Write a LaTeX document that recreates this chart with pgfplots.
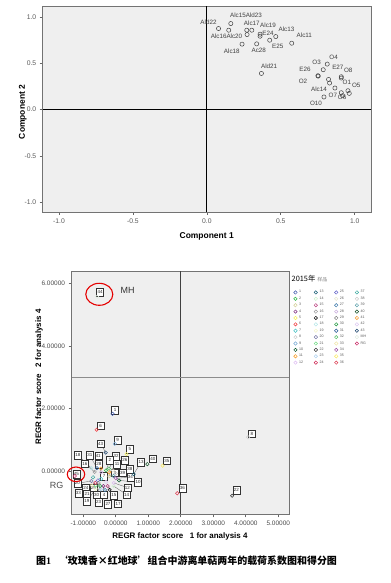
\documentclass[border=0pt]{standalone}
\usepackage{pgfplots}
\pgfplotsset{compat=1.18}
\usepackage{fontspec}
\setmainfont{Liberation Sans}
\newfontfamily\cjk{Noto Sans CJK SC}
\definecolor{bgc}{RGB}{239,239,239}
\definecolor{c1}{RGB}{62,88,172}
\definecolor{c2}{RGB}{46,184,72}
\definecolor{c3}{RGB}{211,206,151}
\definecolor{c4}{RGB}{124,40,125}
\definecolor{c5}{RGB}{245,240,90}
\definecolor{c6}{RGB}{239,51,56}
\definecolor{c7}{RGB}{72,194,197}
\definecolor{c8}{RGB}{204,204,204}
\definecolor{c9}{RGB}{122,170,213}
\definecolor{c10}{RGB}{10,86,44}
\definecolor{c11}{RGB}{248,152,29}
\definecolor{c12}{RGB}{221,186,241}
\definecolor{c13}{RGB}{26,95,118}
\definecolor{c14}{RGB}{204,240,204}
\definecolor{c15}{RGB}{187,63,127}
\definecolor{c16}{RGB}{153,153,153}
\definecolor{c17}{RGB}{0,0,0}
\definecolor{c18}{RGB}{182,231,232}
\definecolor{c19}{RGB}{245,245,200}
\definecolor{c20}{RGB}{121,122,167}
\definecolor{c21}{RGB}{112,220,132}
\definecolor{c22}{RGB}{51,51,51}
\definecolor{c23}{RGB}{172,208,238}
\definecolor{c24}{RGB}{203,27,74}
\definecolor{c25}{RGB}{96,96,200}
\definecolor{c26}{RGB}{230,230,210}
\definecolor{c27}{RGB}{60,120,170}
\definecolor{c28}{RGB}{200,170,220}
\definecolor{c29}{RGB}{130,130,130}
\definecolor{c30}{RGB}{30,150,60}
\definecolor{c31}{RGB}{40,90,150}
\definecolor{c32}{RGB}{80,190,100}
\definecolor{c33}{RGB}{240,230,170}
\definecolor{c34}{RGB}{150,70,160}
\definecolor{c35}{RGB}{250,235,100}
\definecolor{c36}{RGB}{220,60,80}
\definecolor{c37}{RGB}{60,170,160}
\definecolor{c38}{RGB}{200,200,200}
\definecolor{c39}{RGB}{90,160,170}
\definecolor{c40}{RGB}{20,80,40}
\definecolor{c41}{RGB}{245,150,40}
\definecolor{c42}{RGB}{220,200,240}
\definecolor{c43}{RGB}{30,70,110}
\definecolor{c44}{RGB}{225,235,225}
\definecolor{c45}{RGB}{200,40,100}
\tikzset{lbl/.style={draw=black!80, fill=white, inner sep=0.5pt, minimum width=7bp, minimum height=7.5bp, line width=0.45pt, font=\fontsize{4.5}{5}\selectfont, text=black!85},
  ptl/.style={inner sep=0pt, font=\fontsize{6.3}{7}\selectfont, text=black!75}}
\newcommand\smp[4]{\addplot[only marks, mark=o, mark size=1.7bp, mark options={draw=#2, line width=0.5pt}] coordinates {(#3,#4)}; \addlegendentry{#1}}
\newcommand\emp{\addlegendimage{empty legend}\addlegendentry{}}
\newcommand\lab[5]{\addplot[forget plot, black!65, line width=0.3pt] coordinates {(#2,#3) (#4,#5)};}
\newcommand\lbx[3]{\node[lbl] at (axis cs:#2,#3) {#1};}
\newcommand\pl[3]{\node[ptl] at (axis cs:#2,#3) {#1};}
\begin{document}
\begin{tikzpicture}
\path[use as bounding box] (0bp,0bp) rectangle (391bp,583bp);
% ---------- top: loading plot ----------
\begin{axis}[
  at={(42.7bp,371bp)}, anchor=south west, scale only axis,
  width=328.3bp, height=206bp,
  xmin=-1.11, xmax=1.11, ymin=-1.108, ymax=1.122,
  axis background/.style={fill=bgc},
  axis line style={draw=black!55, line width=0.8pt},
  tick style={draw=black!60, line width=0.6pt}, tick align=outside,
  major tick length=3bp, tick pos=left,
  xtick={-1,-0.5,0,0.5,1}, xticklabels={-1.0,-0.5,0.0,0.5,1.0},
  ytick={-1,-0.5,0,0.5,1}, yticklabels={-1.0,-0.5,0.0,0.5,1.0},
  ticklabel style={font=\fontsize{6.8}{7.5}\selectfont, text=black!65},
  /pgf/number format/assume math mode=true,
  clip=false,
]
\addplot[forget plot, black, line width=0.8pt] coordinates {(0,-1.108) (0,1.122)};
\addplot[forget plot, black, line width=0.8pt] coordinates {(-1.11,0) (1.11,0)};
\addplot[only marks, mark=o, mark size=2.1bp, mark options={draw=black!75, line width=0.5pt}] coordinates {
(0.079,0.878) (0.162,0.932) (0.148,0.860) (0.270,0.860) (0.304,0.860)
(0.272,0.813) (0.360,0.817) (0.360,0.795) (0.466,0.791) (0.425,0.752)
(0.574,0.719) (0.238,0.709) (0.337,0.712) (0.369,0.392)
(0.814,0.493) (0.787,0.432) (0.751,0.367) (0.753,0.363)
(0.823,0.327) (0.830,0.288) (0.909,0.356) (0.909,0.342)
(0.866,0.234) (0.954,0.205) (0.963,0.176) (0.909,0.183)
(0.792,0.137) (0.918,0.151)
};
\pl{Alc15Ald23}{0.265}{1.022}
\pl{Ald22}{0.011}{0.942}
\pl{Alc17}{0.304}{0.932}
\pl{Alc19}{0.414}{0.917}
\pl{Alc13}{0.538}{0.871}
\pl{Alc16Alc20}{0.133}{0.791}
\pl{E24}{0.414}{0.824}
\pl{Alc11}{0.659}{0.806}
\pl{E25}{0.479}{0.687}
\pl{Alc18}{0.169}{0.633}
\pl{Ac28}{0.351}{0.644}
\pl{Ald21}{0.421}{0.471}
\pl{O4}{0.857}{0.568}
\pl{O3}{0.742}{0.507}
\pl{E27}{0.886}{0.460}
\pl{E26}{0.664}{0.439}
\pl{O8}{0.956}{0.428}
\pl{O2}{0.650}{0.302}
\pl{O1}{0.947}{0.299}
\pl{O5}{1.010}{0.259}
\pl{Alc14}{0.758}{0.216}
\pl{O7}{0.852}{0.158}
\pl{O6}{0.915}{0.129}
\pl{O10}{0.738}{0.072}
\end{axis}
\node[rotate=90, font=\bfseries\fontsize{8.5}{9}\selectfont] at (22.7bp,471bp) {Component 2};
\node[font=\bfseries\fontsize{8.5}{9}\selectfont] at (206.7bp,347bp) {Component 1};
% ---------- bottom: score plot ----------
\begin{axis}[
  at={(71.5bp,68.7bp)}, anchor=south west, scale only axis,
  width=217.5bp, height=242.8bp,
  xmin=-1.363, xmax=5.33, ymin=-1.383, ymax=6.377,
  axis background/.style={fill=bgc},
  axis line style={draw=black!55, line width=0.8pt},
  tick style={draw=black!60, line width=0.6pt}, tick align=outside,
  major tick length=3bp, tick pos=left,
  xtick={-1,0,1,2,3,4,5},
  xticklabels={-1.00000,0.00000,1.00000,2.00000,3.00000,4.00000,5.00000},
  ytick={0,2,4,6}, yticklabels={0.00000,2.00000,4.00000,6.00000},
  ticklabel style={font=\fontsize{6.5}{7}\selectfont, text=black!70},
  /pgf/number format/assume math mode=true,
  clip=false,
  legend style={at={(axis description cs:1.021,0.931)}, anchor=north west, draw=none, fill=none,
    inner sep=0pt, font=\fontsize{3.6}{4}\selectfont, text=black!65, row sep=-1.6bp,
    /tikz/every even column/.append style={column sep=9bp}},
  legend columns=4, legend cell align=left,
  legend image code/.code={\draw[mark repeat=2,mark phase=2,#1] plot coordinates {(0bp,0bp) (2bp,0bp) (4bp,0bp)};},
]
\addplot[forget plot, black!75, line width=0.7pt] coordinates {(2,-1.383) (2,6.377)};
\addplot[forget plot, black!45, line width=1.3pt] coordinates {(-1.363,3) (5.33,3)};
% leader lines
\lab{2}{-0.18}{0.35}{-0.30}{0.02}
\lab{3}{-0.03}{-0.05}{-0.20}{-0.16}
\lab{4}{-0.36}{-0.75}{-0.38}{-0.48}
\lab{10}{0.69}{-0.36}{0.10}{-0.30}
\lab{11}{0.04}{0.22}{-0.20}{-0.04}
\lab{12}{0.36}{-0.53}{-0.06}{-0.38}
\lab{13}{0.78}{0.28}{0.55}{-0.10}
\lab{14}{0.33}{-0.75}{-0.07}{-0.48}
\lab{15}{-0.06}{-0.77}{-0.25}{-0.48}
\lab{16}{-0.95}{0.24}{-0.65}{-0.03}
\lab{17}{0.07}{-1.04}{-0.19}{-0.60}
\lab{18}{-1.17}{0.51}{-0.75}{0.09}
\lab{19}{-0.89}{-0.97}{-0.62}{-0.57}
\lab{20}{-1.18}{-0.39}{-0.75}{-0.32}
\lab{21}{-0.88}{-0.73}{-0.62}{-0.47}
\lab{23}{-0.53}{-1.00}{-0.46}{-0.59}
\lab{24}{-0.92}{-0.53}{-0.63}{-0.38}
\lab{26}{0.28}{0.35}{-0.09}{0.02}
\lab{27}{-0.24}{-1.06}{-0.33}{-0.61}
\lab{28}{-0.52}{0.21}{-0.45}{-0.04}
\lab{29}{-0.69}{-0.53}{-0.53}{-0.38}
\lab{30}{-0.59}{-0.75}{-0.48}{-0.48}
\lab{31}{-0.80}{0.51}{-0.58}{0.09}
\lab{32}{0.01}{0.48}{-0.21}{0.08}
\lab{33}{-1.15}{-0.71}{-0.74}{-0.46}
\lab{34}{0.45}{-0.20}{0.00}{-0.23}
\lab{38}{0.43}{0.06}{0.00}{-0.08}
\lab{39}{0.21}{-0.05}{-0.07}{-0.16}
\lab{41}{-0.54}{0.49}{-0.46}{0.08}
\lab{43}{-0.47}{0.88}{-0.31}{0.59}
% samples, in legend order (row by row)
\smp{1}{c1}{-0.10}{1.83} \smp{13}{c13}{0.55}{-0.10} \smp{25}{c25}{-0.55}{-0.30} \smp{37}{c37}{-0.70}{-0.20}
\smp{2}{c2}{-0.30}{0.02} \smp{14}{c14}{-0.07}{-0.48} \smp{26}{c26}{-0.09}{0.02} \smp{38}{c38}{0.00}{-0.08}
\smp{3}{c3}{-0.20}{-0.16} \smp{15}{c15}{-0.25}{-0.48} \smp{27}{c27}{-0.33}{-0.61} \smp{39}{c39}{-0.07}{-0.16}
\smp{4}{c4}{-0.38}{-0.48} \smp{16}{c16}{-0.65}{-0.03} \smp{28}{c28}{-0.45}{-0.04} \smp{40}{c40}{0.97}{0.22}
\smp{5}{c5}{0.33}{0.54} \smp{17}{c17}{-0.19}{-0.60} \smp{29}{c29}{-0.53}{-0.38} \smp{41}{c41}{-0.46}{0.08}
\smp{6}{c6}{-0.59}{1.32} \smp{18}{c18}{-0.75}{0.09} \smp{30}{c30}{-0.48}{-0.48} \smp{42}{c42}{-0.30}{-0.35}
\smp{7}{c7}{-0.45}{-0.25} \smp{19}{c19}{-0.62}{-0.57} \smp{31}{c31}{-0.58}{0.09} \smp{43}{c43}{-0.31}{0.59}
\smp{8}{c8}{4.07}{1.08} \smp{20}{c20}{-0.75}{-0.32} \smp{32}{c32}{-0.21}{0.08} \smp{MH}{c44}{-0.575}{5.57}
\smp{9}{c9}{-0.03}{0.87} \smp{21}{c21}{-0.62}{-0.47} \smp{33}{c33}{-0.74}{-0.46} \smp{RG}{c45}{-1.26}{-0.16}
\smp{10}{c10}{0.10}{-0.30} \smp{22}{c22}{3.58}{-0.79} \smp{34}{c34}{0.00}{-0.23} \emp
\smp{11}{c11}{-0.20}{-0.04} \smp{23}{c23}{-0.46}{-0.59} \smp{35}{c35}{1.44}{0.17} \emp
\smp{12}{c12}{-0.06}{-0.38} \smp{24}{c24}{-0.63}{-0.38} \smp{36}{c36}{1.89}{-0.71} \emp
% label boxes
\lbx{1}{-0.02}{1.95}
\lbx{6}{-0.47}{1.45}
\lbx{43}{-0.47}{0.88}
\lbx{9}{0.06}{0.99}
\lbx{5}{0.43}{0.69}
\lbx{40}{1.14}{0.39}
\lbx{35}{1.57}{0.33}
\lbx{36}{2.05}{-0.55}
\lbx{8}{4.19}{1.19}
\lbx{22}{3.71}{-0.61}
\lbx{44}{-0.48}{5.71}
\lbx{45}{-1.21}{-0.11}
\lbx{18}{-1.17}{0.51}
\lbx{31}{-0.80}{0.51}
\lbx{41}{-0.54}{0.49}
\lbx{16}{-0.95}{0.24}
\lbx{28}{-0.52}{0.21}
\lbx{32}{0.01}{0.48}
\lbx{26}{0.28}{0.35}
\lbx{11}{0.04}{0.22}
\lbx{2}{-0.18}{0.35}
\lbx{13}{0.78}{0.28}
\lbx{38}{0.43}{0.06}
\lbx{7}{-0.36}{-0.16}
\lbx{3}{-0.03}{-0.05}
\lbx{39}{0.21}{-0.05}
\lbx{34}{0.45}{-0.20}
\lbx{10}{0.69}{-0.36}
\lbx{20}{-1.18}{-0.39}
\lbx{24}{-0.92}{-0.53}
\lbx{29}{-0.69}{-0.53}
\lbx{12}{0.36}{-0.53}
\lbx{30}{-0.59}{-0.75}
\lbx{4}{-0.36}{-0.75}
\lbx{15}{-0.06}{-0.77}
\lbx{33}{-1.15}{-0.71}
\lbx{21}{-0.88}{-0.73}
\lbx{19}{-0.89}{-0.97}
\lbx{23}{-0.53}{-1.00}
\lbx{27}{-0.24}{-1.06}
\lbx{17}{0.07}{-1.04}
\lbx{14}{0.33}{-0.75}
\end{axis}
% annotations
\draw[red!90!black, line width=1.1pt] (99.3bp,288.7bp) ellipse [x radius=13.5bp, y radius=11bp];
\draw[red!90!black, line width=1.1pt] (76bp,108.7bp) ellipse [x radius=8.7bp, y radius=7.3bp];
\node[font=\fontsize{9}{10}\selectfont, text=black!80] at (127.7bp,293bp) {MH};
\node[font=\fontsize{9}{10}\selectfont, text=black!70] at (56.7bp,97.7bp) {RG};
\node[anchor=west, inner sep=0pt] at (291.5bp,304.7bp) {{\cjk\fontsize{7.4}{8}\selectfont 2015年}\hspace{2bp}{\cjk\fontsize{5}{6}\selectfont\color{black!50}样品}};
\node[rotate=90, font=\bfseries\fontsize{8}{9}\selectfont] at (39bp,206bp) {REGR factor score \ \ 2 for analysis 4};
\node[font=\bfseries\fontsize{8}{9}\selectfont] at (180bp,47bp) {REGR factor score \ \ 1 for analysis 4};
\node[font=\cjk\bfseries\fontsize{10}{12}\selectfont] at (186.5bp,22bp) {图{\bfseries\fontspec{Liberation Serif}1}\hspace{7bp}‘玫瑰香×红地球’组合中游离单萜两年的载荷系数图和得分图};
\end{tikzpicture}
\end{document}
